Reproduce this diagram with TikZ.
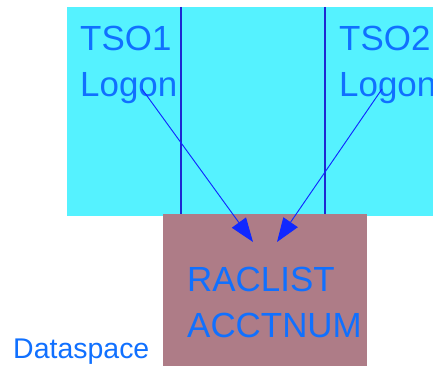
\documentclass[tikz,border=0pt]{standalone}
\usepackage{fontspec}
\setmainfont{Liberation Sans}
\usetikzlibrary{positioning,arrows.meta}
\definecolor{tsoColor}{RGB}{85,242,255}
\definecolor{spaceColor}{RGB}{174,124,135}
\definecolor{labelColor}{RGB}{16,112,255}
\definecolor{flowColor}{RGB}{16,40,255}
\definecolor{dividerColor}{RGB}{30,40,210}
\tikzstyle{pixels} = [x = .03cm, y = -.03cm]
\tikzstyle{areaStyle} = [draw=none, inner sep=0, outer sep=0, anchor=north west]
\tikzstyle{areaText} = [text=labelColor, inner sep=0, anchor=base west, align=left, font=\fontsize{29.8}{38.8}\selectfont]
\tikzstyle{captionText} = [text=labelColor, inner sep=0, anchor=base west, font=\fontsize{24.3}{29}\selectfont]
\tikzstyle{dividerLine} = [color=dividerColor, line width=.9pt]
\tikzstyle{flowArrow} = [color=flowColor, line width=.8pt, -{Triangle[length=7.2mm, width=5.2mm]}]
\begin{document}
\begin{tikzpicture}[pixels]
         \useasboundingbox (0,0) rectangle (433,366);
         \node [areaStyle, fill=tsoColor, minimum width=10.98cm, minimum height=6.27cm] (tso) at (67,7) {};
         \draw [dividerLine] (181,7) -- (181,215);
         \draw [dividerLine] (325,7) -- (325,215);
         \node [areaStyle, fill=spaceColor, minimum width=6.12cm, minimum height=4.56cm] (space) at (163,214) {};

         \node [areaText] (tsoOne) at (80,96) {TSO1\\Logon};
         \node [areaText] (tsoTwo) at (339,96) {TSO2\\Logon};
         \node [areaText] (racList) at (187,337) {RACLIST\\ACCTNUM};
         \node [captionText] (dataspace) at (13,358) {Dataspace};

         \coordinate (fromOne) at (142,89);
         \coordinate (fromTwo) at (382,89);
         \coordinate (toOne) at (253,242);
         \coordinate (toTwo) at (277,242);
         \draw [flowArrow] (fromOne) -- (toOne);
         \draw [flowArrow] (fromTwo) -- (toTwo);
       \end{tikzpicture}
\end{document}
